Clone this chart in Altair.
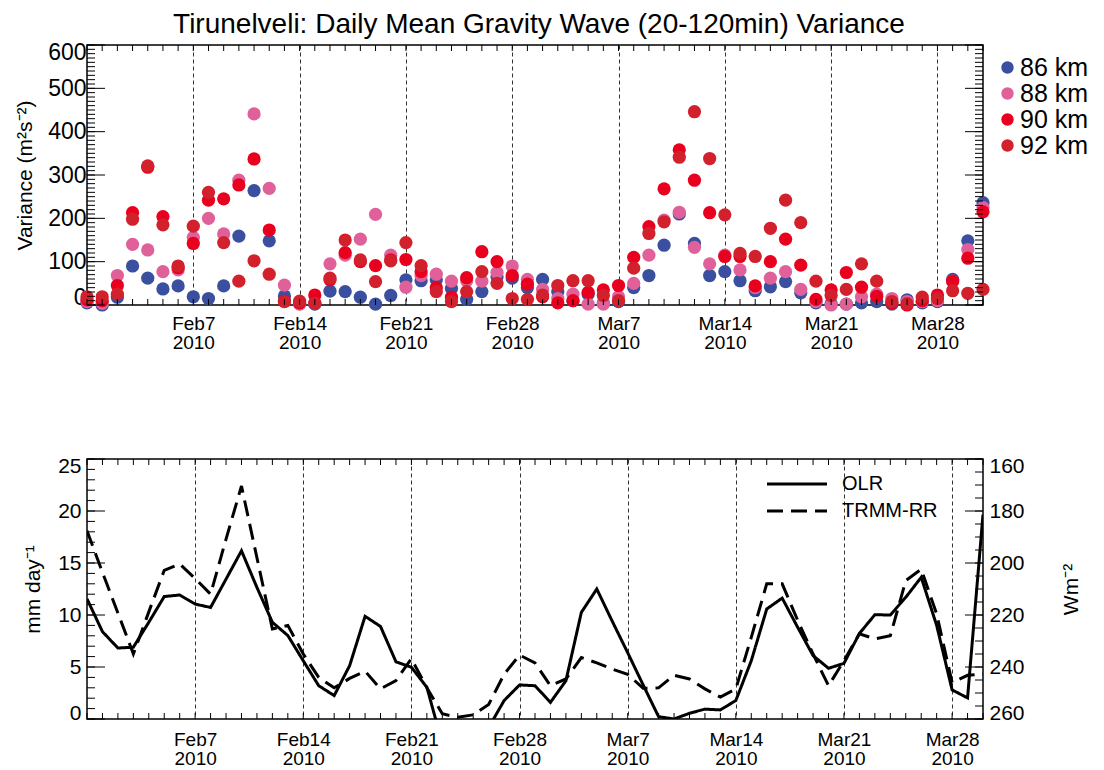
import altair as alt
import pandas as pd
import numpy as np

# ---------------- data ----------------
START = "2010-01-31"
gw_dates = pd.date_range(START, periods=60, freq="D")
heights = ["86 km", "88 km", "90 km", "92 km"]
colors = ["#3a4f9f", "#e0609a", "#e8001e", "#d2212c"]

var_86 = [5, 0, 18, 90, 62, 37, 44, 19, 15, 44, 159, 264, 148, 21, 3, 2, 32, 31, 18, 2,
          22, 58, 56, 58, 38, 13, 31, 65, 62, 40, 59, 31, 10, 25, 5, 8, 40, 68, 138, 210,
          142, 68, 77, 56, 33, 42, 54, 28, 5, 3, 2, 5, 8, 2, 12, 5, 8, 59, 148, 236]
var_88 = [8, 4, 68, 140, 127, 77, 81, 156, 200, 164, 288, 441, 269, 46, 2, 5, 95, 115, 152, 209,
          115, 41, 68, 71, 55, 56, 55, 75, 90, 59, 36, 15, 25, 2, 2, 19, 50, 115, 196, 214,
          133, 95, 115, 81, 40, 62, 77, 36, 8, 0, 2, 19, 25, 15, 8, 8, 10, 55, 128, 225]
var_90 = [12, 10, 45, 213, 318, 204, 86, 142, 242, 245, 277, 337, 173, 9, 5, 23, 58, 121, 100, 91,
          104, 105, 77, 40, 18, 63, 123, 100, 68, 48, 19, 5, 10, 29, 35, 45, 110, 181, 268, 358,
          288, 213, 112, 112, 44, 100, 152, 92, 13, 35, 75, 41, 20, 5, 0, 10, 23, 55, 108, 215]
var_92 = [19, 19, 25, 198, 321, 185, 90, 182, 260, 144, 55, 102, 71, 8, 9, 4, 62, 150, 104, 54,
          102, 144, 91, 31, 8, 31, 77, 50, 15, 13, 23, 45, 56, 56, 22, 10, 85, 165, 192, 341,
          446, 338, 208, 119, 112, 177, 242, 190, 55, 22, 36, 95, 55, 8, 3, 18, 15, 33, 27, 36]

met_dates = pd.date_range(START, periods=59, freq="D")
olr = [213.8, 226.4, 232.7, 232.4, 222.8, 212.9, 212.3, 215.8, 217.1, 206.2,
       195.3, 209.4, 222.8, 227.9, 237.6, 247.2, 251.0, 239.5, 220.5, 224.4,
       238.0, 240.1, 247.8, 269.4, 272.0, 272.0, 263.3, 252.9, 246.9, 247.2,
       253.6, 245.3, 219.0, 210.0, 222.4, 234.5, 246.9, 259.1, 260.0, 257.8,
       256.2, 256.5, 252.9, 237.6, 217.7, 213.5, 224.7, 235.6, 240.5, 238.6,
       227.1, 219.9, 220.0, 213.2, 205.5, 224.0, 248.8, 251.9, 181.4]
trmm = [18.1, 14.1, 10.2, 6.25, 10.3, 14.3, 14.9, 13.5, 12.0, 17.3,
        22.4, 15.5, 8.65, 9.0, 6.25, 4.0, 3.0, 3.9, 4.6, 2.9,
        3.7, 5.8, 3.0, 0.5, 0.16, 0.4, 1.4, 4.3, 6.15, 5.4,
        3.2, 3.85, 5.9, 5.4, 4.8, 4.3, 2.95, 3.0, 4.2, 3.85,
        2.9, 2.1, 2.9, 7.85, 13.0, 13.0, 9.5, 6.25, 3.2, 5.6,
        8.2, 7.7, 8.0, 13.3, 14.4, 10.1, 3.5, 4.2, 4.3]
line_series = ["OLR", "TRMM-RR"]

week_ticks = pd.date_range("2010-02-07", periods=8, freq="7D")
var_major = list(range(0, 601, 100))
var_minor = list(range(0, 601, 10))
rr_major = list(range(0, 26, 5))
rr_minor = list(range(0, 26, 1))
olr_major = list(range(160, 261, 20))
olr_minor = list(range(160, 261, 5))

TITLE = "Tirunelveli: Daily Mean Gravity Wave (20-120min) Variance"
FONT = "Liberation Sans"
W, H = 896, 260


def dt(ts):
    return alt.DateTime(year=ts.year, month=ts.month, date=ts.day)


week_vals = [dt(t) for t in week_ticks]


def x_axis(pad):
    return alt.Axis(values=week_vals, grid=True, gridDash=[4, 3], gridColor="#333333",
                    gridWidth=1, ticks=False, domain=False, labelAngle=0,
                    labelExpr="[timeFormat(datum.value, '%b') + date(datum.value), '2010']",
                    labelFontSize=19, labelLineHeight=19, labelPadding=pad,
                    labelOverlap=False, labelFlush=False, labelColor="black", title=None)


def y_axis(values, title, fsize, pad, tpad, orient="left", angle=None):
    kw = {}
    if angle is not None:
        kw["titleAngle"] = angle
    return alt.Axis(orient=orient, values=values, ticks=False, domain=False, grid=False,
                    labelFontSize=fsize, labelPadding=pad, labelFlush=True,
                    labelFlushOffset=4, labelColor="black", title=title, titleFontSize=21,
                    titleFontWeight="normal", titlePadding=tpad, titleColor="black", **kw)


def x_ticks(dates, scale, axis, h, n=6):
    df = pd.DataFrame({"date": dates})
    bot = alt.Chart(df).mark_rule(color="black", strokeWidth=1).encode(
        x=alt.X("date:T", scale=scale, axis=axis), y=alt.value(h), y2=alt.value(h - n))
    top = alt.Chart(df).mark_rule(color="black", strokeWidth=1).encode(
        x=alt.X("date:T", scale=scale, axis=axis), y=alt.value(0), y2=alt.value(n))
    return [bot, top]


def y_ticks(vals, scale, axis, length, side):
    df = pd.DataFrame({"t": vals})
    if side == "left":
        xe = dict(x=alt.value(0), x2=alt.value(length))
    else:
        xe = dict(x=alt.value(W), x2=alt.value(W - length))
    return alt.Chart(df).mark_rule(color="black", strokeWidth=1).encode(
        y=alt.Y("t:Q", scale=scale, axis=axis), **xe)


# ---------------- top panel ----------------
top_df = pd.DataFrame({
    "date": list(gw_dates) * 4,
    "variance": var_86 + var_88 + var_90 + var_92,
    "height": sum([[h] * 60 for h in heights], []),
})
xs_top = alt.Scale(domain=[dt(gw_dates[0]), dt(gw_dates[-1])], nice=False)
ys_top = alt.Scale(domain=[0, 600], nice=False, zero=False)
xa_top = x_axis(9)
ya_top = y_axis(var_major, "Variance (m²s⁻²)", 23, 1, 12)

pts = alt.Chart(top_df).mark_circle(size=175, opacity=1).encode(
    x=alt.X("date:T", scale=xs_top, axis=xa_top),
    y=alt.Y("variance:Q", scale=ys_top, axis=ya_top),
    color=alt.Color("height:N", scale=alt.Scale(domain=heights, range=colors),
                    legend=alt.Legend(title=None, orient="none", legendX=908, legendY=10,
                                      labelFontSize=25, symbolSize=154, symbolType="circle",
                                      rowPadding=0, labelOffset=0, padding=0,
                                      labelColor="black")),
)

top = alt.layer(
    pts,
    *x_ticks(gw_dates, xs_top, xa_top, H),
    y_ticks(var_minor, ys_top, ya_top, 8, "left"),
    y_ticks(var_major, ys_top, ya_top, 18, "left"),
    y_ticks(var_minor, ys_top, ya_top, 8, "right"),
    y_ticks(var_major, ys_top, ya_top, 18, "right"),
).properties(
    width=W, height=H,
    title=alt.TitleParams(TITLE, fontSize=28, fontWeight="normal", anchor="middle",
                          offset=2, dx=4, color="black"),
)

# ---------------- bottom panel ----------------
xs_bot = alt.Scale(domain=[dt(met_dates[0]), dt(met_dates[-1])], nice=False)
ys_rr = alt.Scale(domain=[0, 25], nice=False, zero=False)
ys_olr = alt.Scale(domain=[160, 260], nice=False, zero=False, reverse=True)
xa_bot = x_axis(11)
ya_rr = y_axis(rr_major, "mm day⁻¹", 21, 6, 14)
ya_olr = y_axis(olr_major, "Wm⁻²", 21, 6, 57, orient="right", angle=270)

dash_scale = alt.Scale(domain=line_series, range=[[1, 0], [16, 8]])
dash_legend = alt.Legend(title=None, orient="none", legendX=700, legendY=15,
                         symbolType="M-4,0L4,0", symbolSize=225, symbolStrokeWidth=3,
                         symbolStrokeColor="black", labelFontSize=20, labelOffset=35,
                         rowPadding=7, padding=0, labelColor="black")

rr_df = pd.DataFrame({"date": met_dates, "val": trmm, "series": "TRMM-RR"})
olr_df = pd.DataFrame({"date": met_dates, "val": olr, "series": "OLR"})

rr_line = alt.Chart(rr_df).mark_line(color="black", strokeWidth=3, clip=True).encode(
    x=alt.X("date:T", scale=xs_bot, axis=xa_bot),
    y=alt.Y("val:Q", scale=ys_rr, axis=ya_rr),
    strokeDash=alt.StrokeDash("series:N", scale=dash_scale, legend=dash_legend),
)
olr_line = alt.Chart(olr_df).mark_line(color="black", strokeWidth=3, clip=True).encode(
    x=alt.X("date:T", scale=xs_bot, axis=xa_bot),
    y=alt.Y("val:Q", scale=ys_olr, axis=ya_olr),
    strokeDash=alt.StrokeDash("series:N", scale=dash_scale, legend=dash_legend),
)

left_group = alt.layer(
    rr_line,
    *x_ticks(met_dates, xs_bot, xa_bot, H),
    y_ticks(rr_minor, ys_rr, ya_rr, 8, "left"),
    y_ticks(rr_major, ys_rr, ya_rr, 18, "left"),
)
right_group = alt.layer(
    olr_line,
    y_ticks(olr_minor, ys_olr, ya_olr, 8, "right"),
    y_ticks(olr_major, ys_olr, ya_olr, 18, "right"),
)
bottom = alt.layer(left_group, right_group).resolve_scale(y="independent").properties(
    width=W, height=H)

chart = alt.vconcat(top, bottom, spacing=101).resolve_legend(
    color="independent", strokeDash="independent"
).properties(
    padding={"left": 5, "top": 2, "right": 0, "bottom": 2}
).configure(font=FONT).configure_view(stroke="black", strokeWidth=1.5)

chart.save("out.html", embed_options={"renderer": "svg", "actions": False})
